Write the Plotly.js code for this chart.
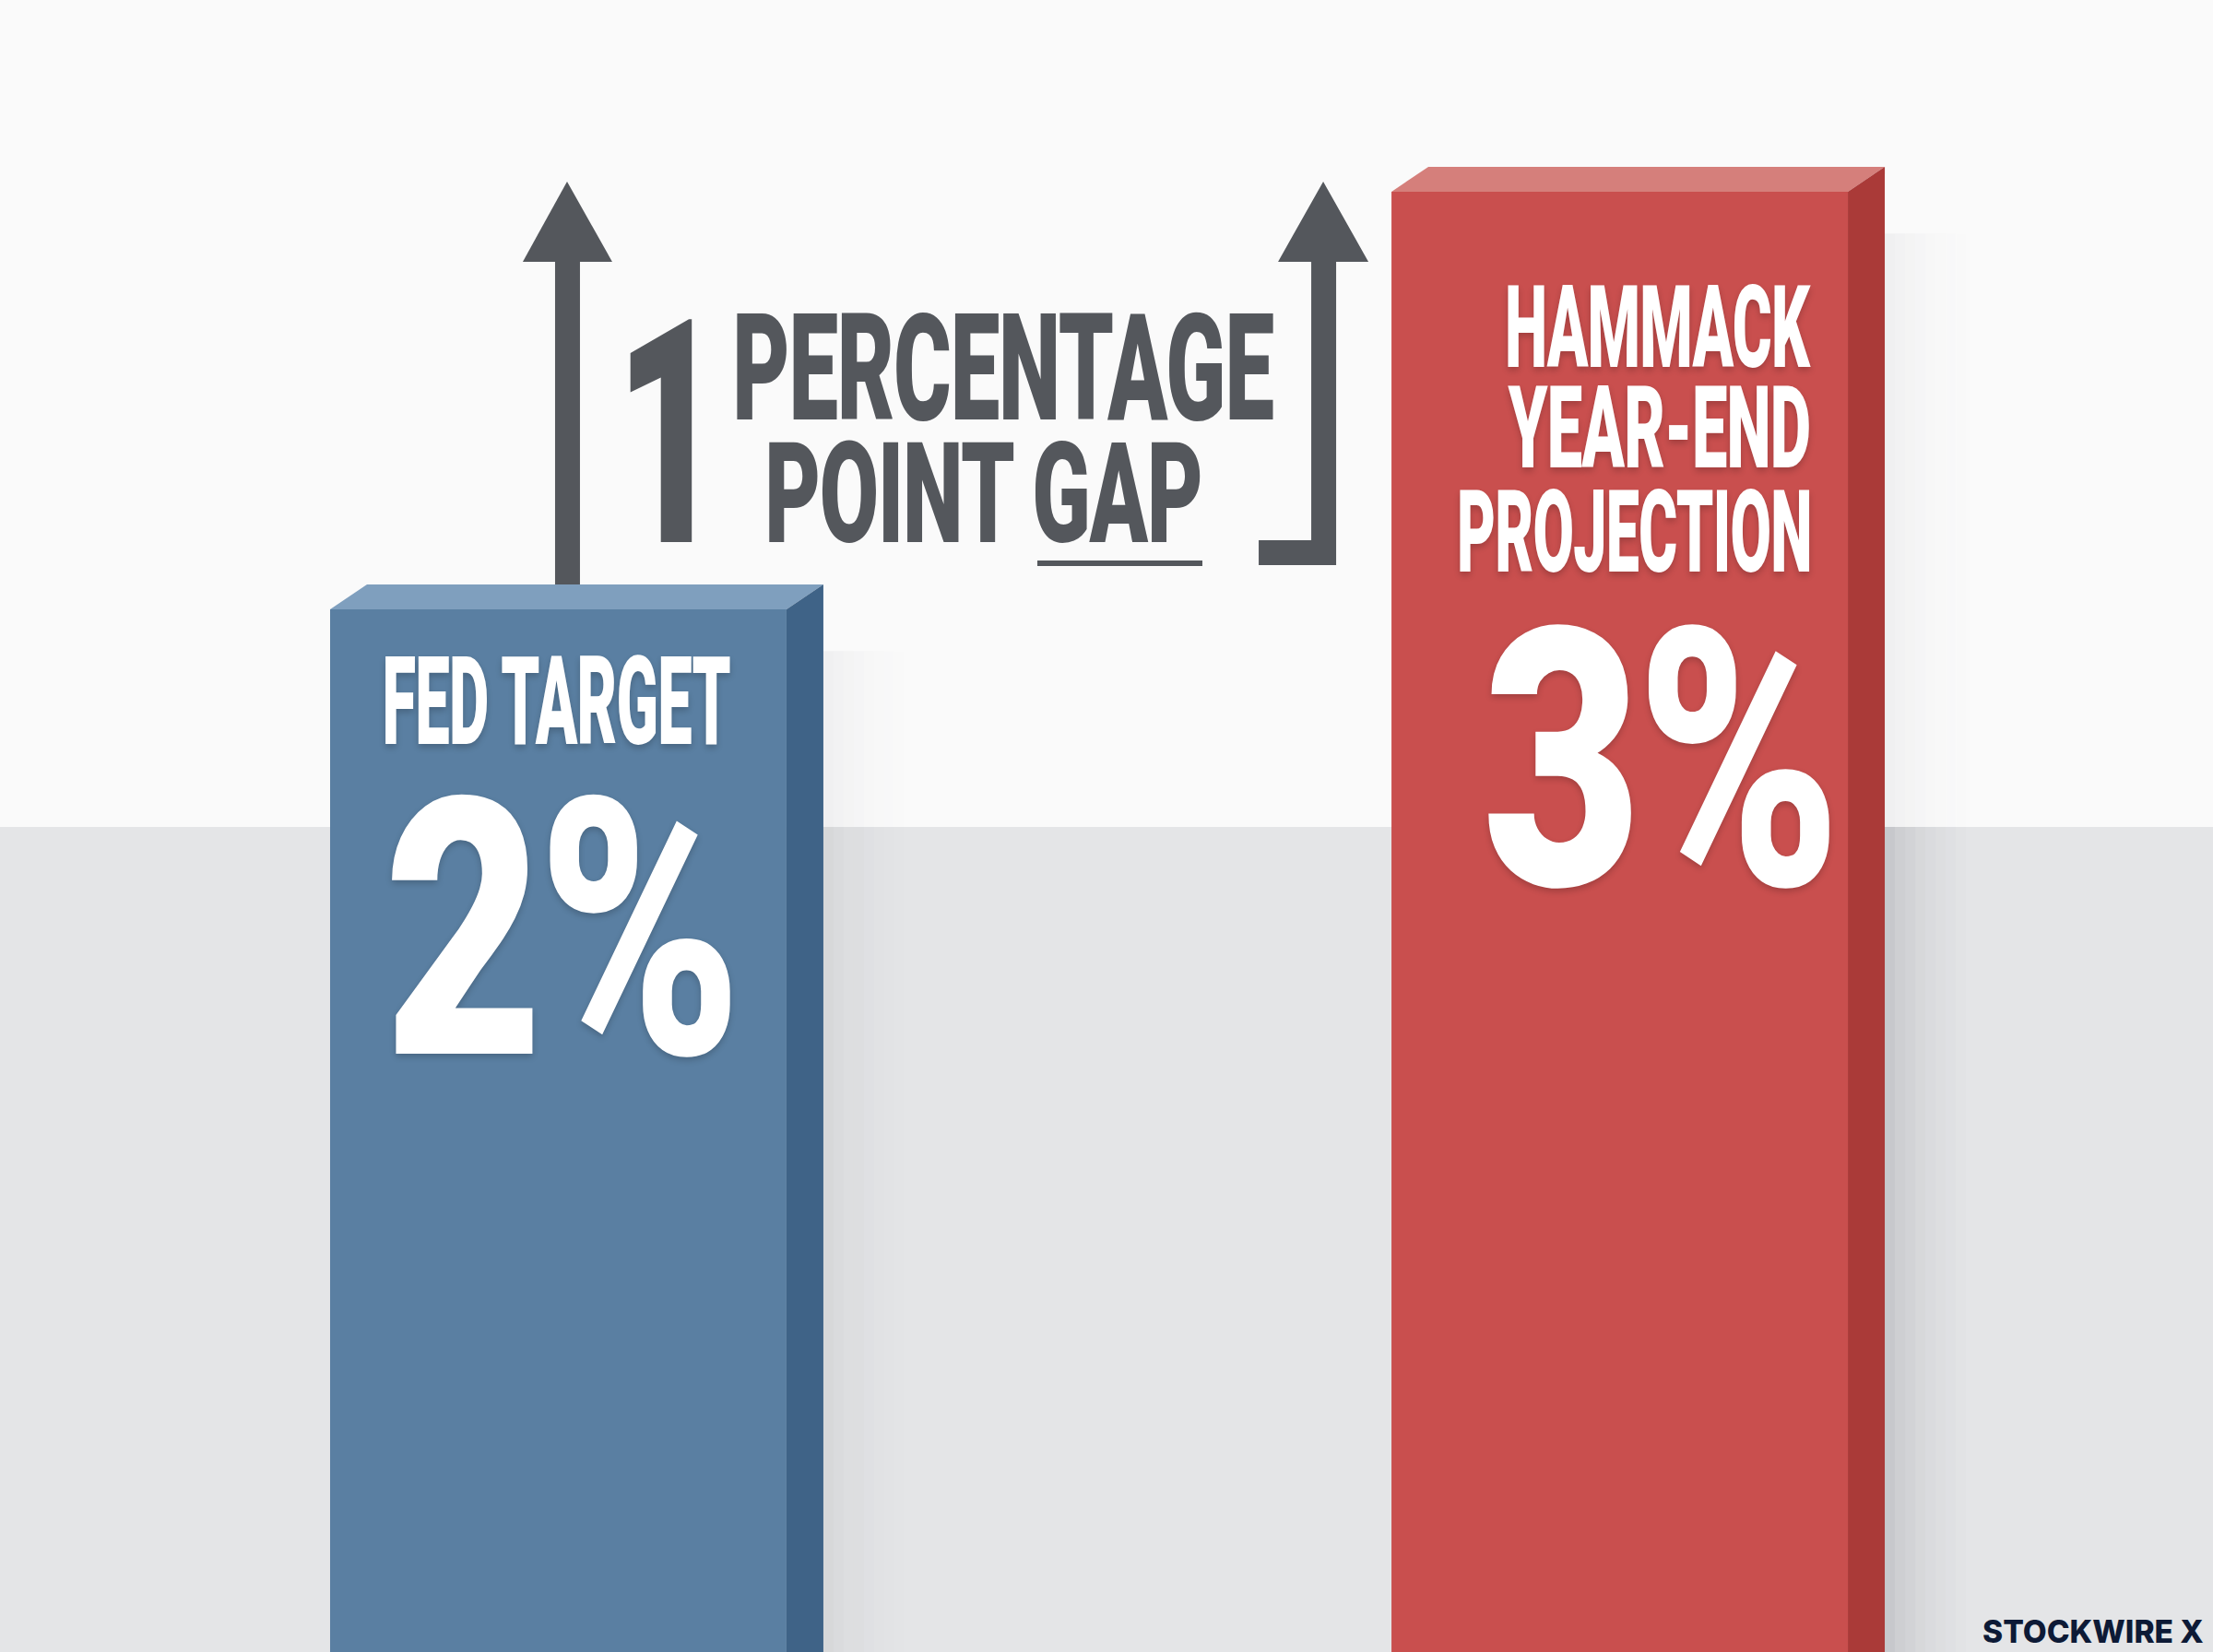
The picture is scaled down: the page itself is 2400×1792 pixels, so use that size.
<!DOCTYPE html>
<html><head><meta charset="utf-8">
<script src="https://cdn.plot.ly/plotly-3.0.1.min.js"></script>
<style>html,body{margin:0;padding:0;background:#fafafa;overflow:hidden}#chart{width:2400px;height:1792px}</style>
</head><body><div id="chart"></div>
<script>
// ---------------- data ----------------
const categories = ["Fed Target", "Hammack Year-End Projection"];
const categoryLabelLines = [["FED TARGET"], ["HAMMACK", "YEAR-END", "PROJECTION"]];
const values = [2, 3];
const valueLabels = values.map(v => v + "%");
const gapLabel = ["PERCENTAGE", "POINT GAP"];
const watermark = "STOCKWIRE X";

// ---------------- layout constants ----------------
const W = 2400, H = 1792;
const xRange = [-0.526, 1.559];
const yRange = [-0.497, 3.459];
const pxX = W / (xRange[1] - xRange[0]);
const pxY = H / (yRange[1] - yRange[0]);
const barWidth = 0.43;
const half = barWidth * pxX / 2;
const DX = 40, DY = 27;
const floor = yRange[0] - 0.05;
const bandTop = (H - 897) / H;
const wallBottomY = yRange[1] - 897 / pxY;
const frontCol = ["#5a7fa2", "#c94f4e"];
const topCol = ["#7f9fbe", "#d57f7b"];
const sideCol = ["#3f6387", "#aa3a38"];
const gray = "#54575c";
const FONT = "Roboto, 'Liberation Sans', sans-serif";

const xs = categories.map((c, i) => i);

const data = [{
  type: "bar",
  x: xs,
  y: values.map(v => v - floor),
  base: floor,
  width: barWidth,
  text: categories,
  textposition: "none",
  hoverinfo: "text",
  marker: {color: frontCol, line: {width: 0}}
}];

const shapes = [];
shapes.push({type: "rect", xref: "paper", yref: "paper", x0: 0, x1: 1, y0: 0, y1: bandTop,
  fillcolor: "#e4e5e7", line: {width: 0}, layer: "below"});
const shadowA = [0.17, 0.13, 0.10, 0.075, 0.055, 0.038, 0.024, 0.012];
xs.forEach((x, i) => {
  shadowA.forEach((a, k) => {
    shapes.push({type: "rect", layer: "below", xref: "x", yref: "paper", xsizemode: "pixel", xanchor: x,
      x0: half + DX + k * 11, x1: half + DX + (k + 1) * 11, y0: 0, y1: bandTop,
      fillcolor: "rgba(60,60,70," + (a * (i === 1 ? 1 : 0.45)) + ")", line: {width: 0}});
    shapes.push({type: "rect", layer: "below", xref: "x", yref: "y", xsizemode: "pixel", xanchor: x,
      x0: half + DX + k * 11, x1: half + DX + (k + 1) * 11, y0: wallBottomY, y1: values[i] - 0.1,
      fillcolor: "rgba(60,60,70," + (a * 0.3) + ")", line: {width: 0}});
  });
});
// left arrow shaft
shapes.push({type: "rect", xref: "x", yref: "y", xsizemode: "pixel", ysizemode: "pixel",
  xanchor: xs[0], yanchor: values[1],
  x0: -3.5, x1: 23.5, y0: -(values[1] - values[0]) * pxY, y1: -70, fillcolor: gray, line: {width: 0}});
// 3D top & side faces
xs.forEach((x, i) => {
  shapes.push({type: "path", xref: "x", yref: "y", xsizemode: "pixel", ysizemode: "pixel",
    xanchor: x, yanchor: values[i],
    path: `M${-half},0 L${half},0 L${half + DX},${DY} L${-half + DX},${DY} Z`,
    fillcolor: topCol[i], line: {width: 0}});
  shapes.push({type: "path", xref: "x", yref: "y", xsizemode: "pixel", ysizemode: "pixel",
    xanchor: x, yanchor: values[i],
    path: `M${half},0 L${half + DX},${DY} L${half + DX},-2000 L${half},-2000 Z`,
    fillcolor: sideCol[i], line: {width: 0}});
});
// left arrow head
shapes.push({type: "path", xref: "x", yref: "y", xsizemode: "pixel", ysizemode: "pixel",
  xanchor: xs[0], yanchor: values[1], path: "M9.5,11 L58.5,-76 L-38.5,-76 Z",
  fillcolor: gray, line: {width: 0}});
// right bracket arrow
shapes.push({type: "path", xref: "x", yref: "y", xsizemode: "pixel", ysizemode: "pixel",
  xanchor: xs[1], yanchor: values[1],
  path: "M-321.5,11 L-272.5,-76 L-307.5,-76 L-307.5,-405 L-391.5,-405 L-391.5,-378 L-334.5,-378 L-334.5,-76 L-370.5,-76 Z",
  fillcolor: gray, line: {width: 0}});
// underline under GAP
shapes.push({type: "rect", xref: "paper", yref: "paper", x0: 1125 / W, x1: 1304 / W,
  y0: 1 - 614 / H, y1: 1 - 608 / H, fillcolor: gray, line: {width: 0}});

// ---------------- text ----------------
// target: anchor x (px), mode, baseline y (px), ink width (px), letter spacing (em)
const annotations = [];
const fit = [];
function label(text, xpx, base, size, color, mode, inkW, ls, family, weight, shadow) {
  annotations.push({text: text, xref: "paper", yref: "paper", x: xpx / W, y: 1 - (base - size * 0.35) / H,
    xanchor: mode, yanchor: "middle", align: mode, showarrow: false, borderpad: 0, borderwidth: 0,
    font: {family: family || FONT, size: size, color: color, weight: weight || 900, shadow: shadow || "none"}});
  fit.push({x: xpx, base: base, o: mode, w: inkW, ls: ls, family: family || FONT, size: size,
    weight: weight || 900, text: text});
}
const wShadow = "0px 3px 8px rgba(0,0,0,0.20)";
const LS = -0.012;
label(String(values[1] - values[0]), 718, 588, 340, gray, "center", 70, 0);
label(gapLabel[0], 1090, 455, 162, gray, "center", 582, LS);
label(gapLabel[1], 1069, 588, 153, gray, "center", 470, LS);
const redBase = [398, 507, 620], redW = [329, 327, 379], redRight = [1964, 1962, 1962];
categoryLabelLines[1].forEach((ln, k) =>
  label(ln, redRight[k], redBase[k], 125, "#ffffff", "right", redW[k], LS, null, null, wShadow));
label(valueLabels[1], 1798.5, 960, 392, "#ffffff", "center", 373, -0.02, null, null, wShadow);
label(categoryLabelLines[0][0], 606, 807, 134, "#ffffff", "center", 376, LS, null, null, wShadow);
label(valueLabels[0], 607, 1143, 390, "#ffffff", "center", 372, -0.02, null, null, wShadow);
label(watermark, 2390, 1782, 34, "#0d1a36", "right", 239, 0, "Inter, 'Noto Sans', sans-serif", 800);

const layout = {
  width: W, height: H,
  margin: {l: 0, r: 0, t: 0, b: 0, pad: 0},
  paper_bgcolor: "#fafafa", plot_bgcolor: "rgba(0,0,0,0)",
  showlegend: false,
  xaxis: {range: xRange, visible: false, fixedrange: true},
  yaxis: {range: yRange, visible: false, fixedrange: true},
  shapes: shapes,
  annotations: annotations
};

const cv = document.createElement("canvas").getContext("2d");
function fitText(gd) {
  gd.querySelectorAll("g.annotation").forEach(g => {
    const spec = fit[+g.getAttribute("data-index")];
    const t = g.querySelector("text.annotation-text");
    if (!spec || !t) return;
    const lsPx = (spec.ls || 0) * spec.size;
    t.style.letterSpacing = lsPx + "px";
    cv.font = spec.weight + " " + spec.size + "px " + spec.family;
    cv.letterSpacing = lsPx + "px";
    const m = cv.measureText(spec.text);
    const p = t.getStartPositionOfChar(0);
    const inkL = p.x - m.actualBoundingBoxLeft;
    const inkR = p.x + m.actualBoundingBoxRight;
    const inkWidth = inkR - inkL;
    if (!(inkWidth > 0)) return;
    const s = spec.w / inkWidth;
    const ax = spec.o === "right" ? inkR : (spec.o === "left" ? inkL : (inkL + inkR) / 2);
    const ctm = t.getScreenCTM();
    const Lx = spec.x - ctm.e, Ly = spec.base - ctm.f;
    t.setAttribute("transform",
      "translate(" + Lx + "," + Ly + ") scale(" + s + ",1) translate(" + (-ax) + "," + (-p.y) + ")");
  });
}

Plotly.newPlot("chart", data, layout, {displayModeBar: false, responsive: false}).then(gd => {
  if (document.fonts && document.fonts.ready) document.fonts.ready.then(() => fitText(gd)); else fitText(gd);
});
</script>
</body></html>
